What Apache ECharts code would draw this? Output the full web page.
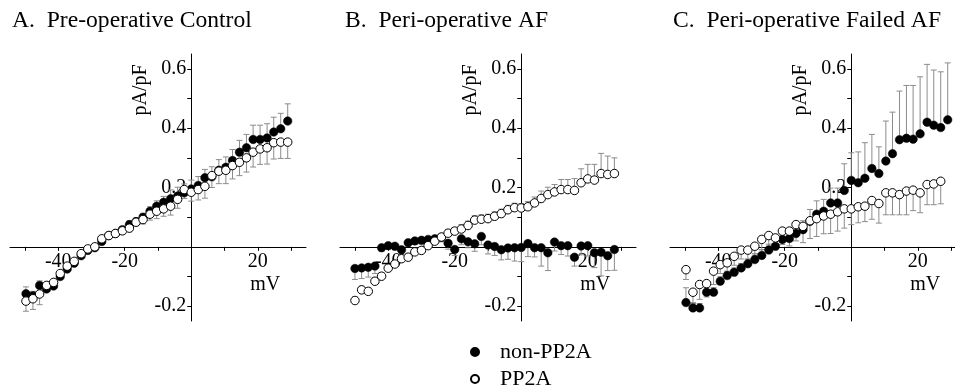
<!DOCTYPE html>
<html><head><meta charset="utf-8">
<script src="https://cdn.jsdelivr.net/npm/echarts/dist/echarts.min.js"></script>
<style>html,body{margin:0;padding:0;background:#fff}#c{width:955px;height:386px}</style>
</head><body><div id="c"></div>
<script>
// ---- data ----
const panelTitles = ['A.  Pre-operative Control', 'B.  Peri-operative AF', 'C.  Peri-operative Failed AF'];
const seriesNames = ['non-PP2A', 'PP2A'];
const xTickLabels = [-40, -20, 20];
const xTicks = [-50, -40, -30, -20, -10, 10, 20, 30];
const yTickLabels = [-0.2, 0.2, 0.4, 0.6];
const yTicks = [-0.2, -0.1, 0.1, 0.2, 0.3, 0.4, 0.5, 0.6];
const xAxisName = 'mV';
const yAxisName = 'pA/pF';

const voltsAC = [-49.7, -47.6, -45.6, -43.5, -41.4, -39.4, -37.3, -35.2, -33.1, -31.1, -29.0, -26.9, -24.8, -22.8, -20.7, -18.6, -16.6, -14.5, -12.4, -10.4, -8.3, -6.2, -4.1, -2.1, 0.0, 2.1, 4.1, 6.2, 8.3, 10.4, 12.4, 14.5, 16.6, 18.6, 20.7, 22.8, 24.8, 26.9, 29.0];
const voltsB = [-50, -48, -46, -44, -42, -40, -38, -36, -34, -32, -30, -28, -26, -24, -22, -20, -18, -16, -14, -12, -10, -8, -6, -4, -2, 0, 2, 4, 6, 8, 10, 12, 14, 16, 18, 20, 22, 24, 26, 28];

// Panel A
const nonPP2A_A = [-0.158, -0.165, -0.130, -0.142, -0.132, -0.100, -0.075, -0.055, -0.030, -0.012, -0.003, 0.018, 0.038, 0.045, 0.058, 0.075, 0.085, 0.100, 0.120, 0.137, 0.150, 0.162, 0.171, 0.182, 0.195, 0.207, 0.233, 0.236, 0.258, 0.268, 0.291, 0.319, 0.334, 0.362, 0.362, 0.367, 0.387, 0.398, 0.424];
const nonPP2A_A_err = [0.023, 0.015, 0.015, 0.012, 0.012, 0.01, 0.01, 0.01, 0.01, 0.01, 0.01, 0.01, 0.01, 0.01, 0.01, 0.012, 0.012, 0.012, 0.015, 0.018, 0.02, 0.03, 0.03, 0.03, 0.03, 0.03, 0.028, 0.034, 0.036, 0.035, 0.037, 0.04, 0.045, 0.048, 0.048, 0.048, 0.05, 0.052, 0.058];
const PP2A_A = [-0.183, -0.175, -0.159, -0.130, -0.120, -0.090, -0.065, -0.049, -0.023, -0.007, 0.000, 0.027, 0.038, 0.045, 0.054, 0.063, 0.083, 0.092, 0.110, 0.120, 0.128, 0.137, 0.160, 0.193, 0.184, 0.193, 0.204, 0.240, 0.255, 0.258, 0.274, 0.285, 0.300, 0.319, 0.330, 0.334, 0.351, 0.353, 0.353];
const PP2A_A_err = [0.034, 0.036, 0.036, 0.015, 0.012, 0.01, 0.01, 0.01, 0.01, 0.01, 0.01, 0.01, 0.01, 0.01, 0.01, 0.012, 0.012, 0.015, 0.02, 0.025, 0.025, 0.03, 0.03, 0.03, 0.03, 0.035, 0.04, 0.04, 0.042, 0.045, 0.045, 0.045, 0.048, 0.05, 0.052, 0.055, 0.055, 0.055, 0.055];

// Panel B
const nonPP2A_B = [-0.073, -0.071, -0.069, -0.065, -0.003, 0.004, 0.002, -0.010, 0.014, 0.020, 0.022, 0.025, 0.027, 0.032, 0.012, -0.009, 0.027, 0.017, 0.010, 0.035, 0.006, 0.001, -0.010, -0.004, -0.003, -0.002, 0.011, -0.003, -0.003, -0.020, 0.016, 0.004, 0.004, -0.035, 0.003, 0.004, -0.020, -0.018, -0.030, -0.009];
const nonPP2A_B_err = [0.037, 0.036, 0.033, 0.025, 0.012, 0.012, 0.012, 0.012, 0.012, 0.012, 0.012, 0.012, 0.012, 0.015, 0.02, 0.02, 0.02, 0.02, 0.025, 0.028, 0.03, 0.03, 0.034, 0.038, 0.045, 0.048, 0.044, 0.031, 0.062, 0.06, 0.03, 0.03, 0.035, 0.03, 0.03, 0.035, 0.05, 0.08, 0.05, 0.07];
const PP2A_B = [-0.181, -0.145, -0.150, -0.116, -0.099, -0.072, -0.058, -0.040, -0.035, -0.017, -0.012, 0.004, 0.019, 0.033, 0.046, 0.053, 0.060, 0.072, 0.090, 0.093, 0.095, 0.103, 0.112, 0.125, 0.132, 0.131, 0.135, 0.148, 0.163, 0.176, 0.185, 0.193, 0.193, 0.190, 0.216, 0.229, 0.225, 0.247, 0.244, 0.247];
const PP2A_B_err = [0.012, 0.012, 0.012, 0.012, 0.012, 0.012, 0.012, 0.012, 0.012, 0.012, 0.012, 0.012, 0.012, 0.012, 0.012, 0.012, 0.015, 0.015, 0.015, 0.015, 0.015, 0.015, 0.015, 0.015, 0.015, 0.015, 0.018, 0.02, 0.025, 0.025, 0.025, 0.034, 0.034, 0.04, 0.047, 0.049, 0.053, 0.068, 0.062, 0.053];

// Panel C
const nonPP2A_C = [-0.188, -0.206, -0.206, -0.153, -0.153, -0.116, -0.097, -0.086, -0.071, -0.057, -0.043, -0.029, -0.011, 0.002, 0.025, 0.028, 0.045, 0.058, 0.086, 0.110, 0.120, 0.148, 0.148, 0.190, 0.224, 0.216, 0.231, 0.264, 0.247, 0.289, 0.314, 0.361, 0.366, 0.363, 0.381, 0.420, 0.410, 0.402, 0.428];
const nonPP2A_C_err = [0.05, 0.015, 0.015, 0.015, 0.015, 0.015, 0.015, 0.015, 0.015, 0.015, 0.02, 0.02, 0.02, 0.02, 0.025, 0.025, 0.03, 0.03, 0.04, 0.045, 0.04, 0.05, 0.05, 0.09, 0.093, 0.104, 0.12, 0.115, 0.09, 0.135, 0.14, 0.164, 0.178, 0.181, 0.192, 0.195, 0.186, 0.188, 0.192];
const PP2A_C = [-0.077, -0.153, -0.127, -0.124, -0.082, -0.060, -0.054, -0.032, -0.011, -0.011, 0.002, 0.025, 0.038, 0.030, 0.053, 0.053, 0.075, 0.069, 0.088, 0.095, 0.104, 0.110, 0.118, 0.128, 0.128, 0.135, 0.137, 0.156, 0.146, 0.182, 0.182, 0.176, 0.188, 0.191, 0.182, 0.210, 0.212, 0.221, null];
const PP2A_C_err = [0.033, 0.035, 0.05, 0.045, 0.045, 0.03, 0.03, 0.03, 0.03, 0.03, 0.03, 0.035, 0.035, 0.04, 0.045, 0.05, 0.055, 0.055, 0.06, 0.06, 0.06, 0.065, 0.065, 0.065, 0.053, 0.054, 0.052, 0.063, 0.066, 0.074, 0.074, 0.068, 0.08, 0.069, 0.067, 0.068, 0.07, 0.076, null];

// ---- chart ----
const panels = [
  {x: voltsAC, f: nonPP2A_A, fe: nonPP2A_A_err, o: PP2A_A, oe: PP2A_A_err, fDir: 1, oDir: -1},
  {x: voltsB, f: nonPP2A_B, fe: nonPP2A_B_err, o: PP2A_B, oe: PP2A_B_err, fDir: -1, oDir: 1},
  {x: voltsAC, f: nonPP2A_C, fe: nonPP2A_C_err, o: PP2A_C, oe: PP2A_C_err, fDir: 1, oDir: -1}
];
const gridLefts = [10, 340, 670];
const X_MIN = -54.5, X_MAX = 34.5, Y_MIN = -0.25, Y_MAX = 0.65;
const GRID_W = 296, GRID_TOP = 54, GRID_H = 267;
const FONT = '"Liberation Serif", "Times New Roman", serif';
const ERR_COLOR = '#8c8c8c';
// distance of the zero lines from the grid's left / bottom edges
const Y_AXIS_SHIFT = (0 - X_MIN) / (X_MAX - X_MIN) * GRID_W;
const X_AXIS_SHIFT = (0 - Y_MIN) / (Y_MAX - Y_MIN) * GRID_H;

function pairs(xs, ys, es) {
  const out = [];
  xs.forEach((x, i) => { if (ys[i] != null) out.push(es ? [x, ys[i], es[i]] : [x, ys[i]]); });
  return out;
}
function errSeries(xs, ys, es, dir, gi) {
  return {
    type: 'custom', xAxisIndex: gi, yAxisIndex: gi, silent: true, z: 1,
    data: pairs(xs, ys, es), encode: {x: 0, y: 1},
    renderItem(params, api) {
      const x = api.value(0), y = api.value(1), e = api.value(2);
      const p0 = api.coord([x, y]);
      const p1 = api.coord([x, y + dir * e]);
      const cap = 3;
      const st = {stroke: ERR_COLOR, lineWidth: 1};
      return {type: 'group', children: [
        {type: 'line', shape: {x1: p0[0], y1: p0[1], x2: p1[0], y2: p1[1]}, style: st},
        {type: 'line', shape: {x1: p1[0] - cap, y1: p1[1], x2: p1[0] + cap, y2: p1[1]}, style: st}
      ]};
    }
  };
}

const grids = [], xAxes = [], yAxes = [], series = [], graphics = [];
panels.forEach((p, i) => {
  grids.push({left: gridLefts[i], top: GRID_TOP, width: GRID_W, height: GRID_H, containLabel: false, outerBoundsMode: 'none'});
  xAxes.push({
    type: 'value', gridIndex: i, min: X_MIN, max: X_MAX, position: 'bottom', offset: -X_AXIS_SHIFT,
    axisLine: {onZero: false, lineStyle: {color: '#000', width: 1}},
    axisTick: {customValues: xTicks, length: 4, lineStyle: {color: '#000'}},
    axisLabel: {customValues: xTickLabels, color: '#000', fontFamily: FONT, fontSize: 20, margin: 5},
    splitLine: {show: false}
  });
  yAxes.push({
    type: 'value', gridIndex: i, min: Y_MIN, max: Y_MAX, position: 'left', offset: -Y_AXIS_SHIFT,
    axisLine: {show: true, onZero: false, lineStyle: {color: '#000', width: 1}},
    axisTick: {customValues: yTicks, length: 4, lineStyle: {color: '#000'}},
    axisLabel: {customValues: yTickLabels, color: '#000', fontFamily: FONT, fontSize: 20, margin: 5},
    splitLine: {show: false}
  });
  series.push(errSeries(p.x, p.f, p.fe, p.fDir, i));
  series.push(errSeries(p.x, p.o, p.oe, p.oDir, i));
  series.push({
    name: seriesNames[0], type: 'scatter', xAxisIndex: i, yAxisIndex: i, z: 3,
    symbol: 'circle', symbolSize: 8.5, data: pairs(p.x, p.f),
    itemStyle: {color: '#000', borderColor: '#000', borderWidth: 0.5, opacity: 1}
  });
  series.push({
    name: seriesNames[1], type: 'scatter', xAxisIndex: i, yAxisIndex: i, z: 4,
    symbol: 'circle', symbolSize: 8.5, data: pairs(p.x, p.o),
    itemStyle: {color: '#fff', borderColor: '#000', borderWidth: 1, opacity: 1}
  });
  const axisX = gridLefts[i] + Y_AXIS_SHIFT;
  graphics.push({type: 'text', x: [12, 345, 673][i], y: 21, style: {text: panelTitles[i], fontFamily: FONT, fontSize: 23.6, fill: '#000', align: 'left', verticalAlign: 'middle'}});
  graphics.push({type: 'text', x: axisX - 51, y: 90, rotation: Math.PI / 2, style: {text: yAxisName, fontFamily: FONT, fontSize: 20, fill: '#000', align: 'center', verticalAlign: 'middle'}});
  graphics.push({type: 'text', x: axisX + 74, y: 285, style: {text: xAxisName, fontFamily: FONT, fontSize: 20, fill: '#000', align: 'center', verticalAlign: 'middle'}});
});

const chart = echarts.init(document.getElementById('c'), null, {renderer: 'canvas'});
chart.setOption({
  animation: false,
  backgroundColor: '#fff',
  grid: grids, xAxis: xAxes, yAxis: yAxes, series: series,
  legend: {
    data: seriesNames, orient: 'vertical', left: 465, top: 336, height: 80, padding: 5, itemGap: 5,
    itemWidth: 40, itemHeight: 8, selectedMode: false,
    textStyle: {fontFamily: FONT, fontSize: 22, color: '#000'}
  },
  graphic: graphics
});
</script></body></html>
